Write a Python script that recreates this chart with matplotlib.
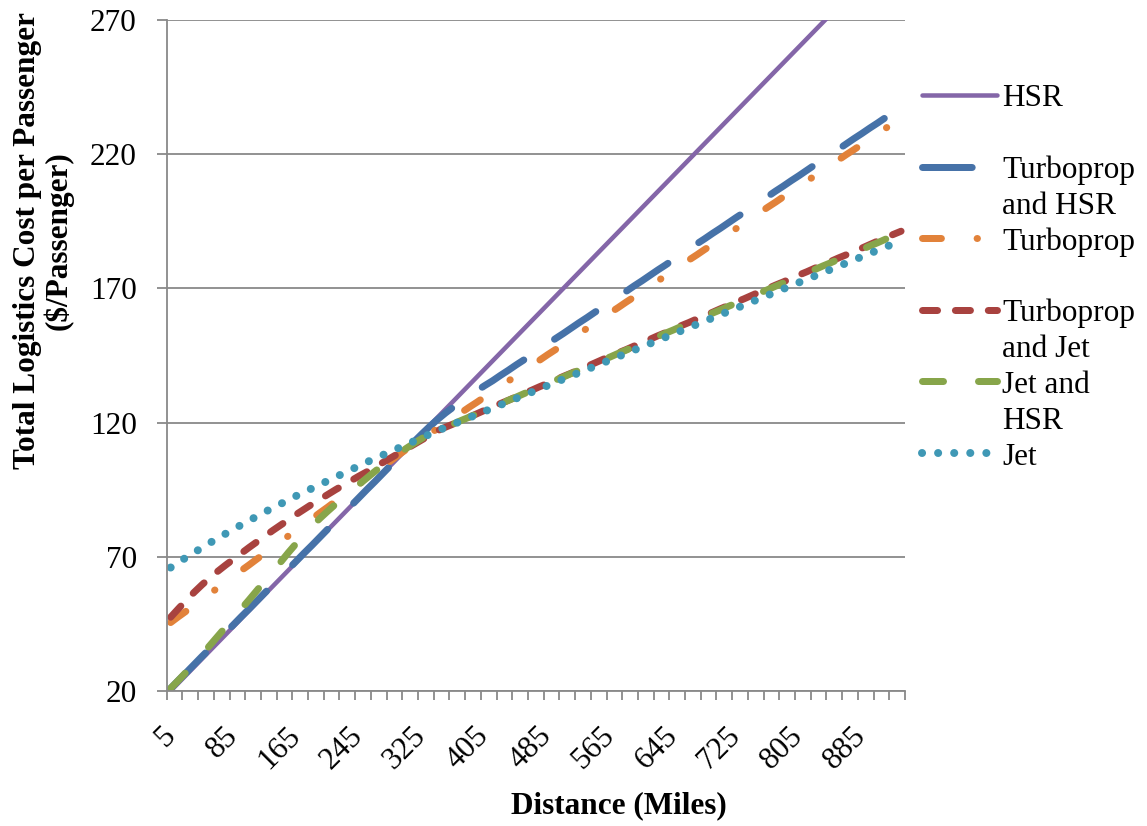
import matplotlib
matplotlib.use('Agg')
from matplotlib import pyplot as plt
from matplotlib import transforms
from matplotlib.lines import Line2D
import numpy as np

# categories (miles)
distances = list(range(5, 936, 10))

hsr = [20, 23, 26, 29, 32, 35, 38, 41, 44, 47, 50, 53, 56, 59, 62, 65, 68, 71, 74, 77,
       80, 83, 86, 89, 92, 95, 98, 101, 104, 107, 110, 113, 116, 119, 122, 125, 128, 131, 134, 137,
       140, 143, 146, 149, 152, 155, 158, 161, 164, 167, 170, 173, 176, 179, 182, 185, 188, 191, 194, 197,
       200, 203, 206, 209, 212, 215, 218, 221, 224, 227, 230, 233, 236, 239, 242, 245, 248, 251, 254, 257,
       260, 263, 266, 269, 272, 275, 278, 281, 284, 287, 290, 293, 296, 299]

turboprop_hsr = [21.0, 24.0, 26.9, 29.9, 32.9, 35.8, 38.8, 41.7, 44.7, 47.7, 50.6, 53.6, 56.6, 59.5, 62.5,
                 65.4, 68.4, 71.4, 74.3, 77.3, 80.3, 83.2, 86.2, 89.1, 92.1, 95.1, 98.0, 101.0, 104.0, 106.9,
                 109.9, 112.9, 115.8, 118.6, 121.2, 123.6, 125.8, 127.9, 129.9, 131.9, 133.8, 135.6, 137.6, 139.5,
                 141.5, 143.4, 145.4, 147.4, 149.3, 151.3, 153.2, 155.2, 157.2, 159.1, 161.1, 163.0, 165.0, 167.0,
                 168.9, 170.9, 172.8, 174.8, 176.8, 178.7, 180.7, 182.6, 184.6, 186.6, 188.5, 190.5, 192.4, 194.4,
                 196.4, 198.3, 200.3, 202.2, 204.2, 206.2, 208.1, 210.1, 212.0, 214.0, 216.0, 217.9, 219.9, 221.8,
                 223.8, 225.8, 227.7, 229.7, 231.6, 233.6, 235.6, 237.5]

turboprop = [45.5, 47.7, 49.8, 52.0, 54.1, 56.3, 58.4, 60.6, 62.7, 64.9, 67.0, 69.2, 71.3, 73.5, 75.6,
             77.8, 79.9, 82.1, 84.2, 86.4, 88.5, 90.7, 92.8, 95.0, 97.1, 99.3, 101.4, 103.6, 105.7, 107.9,
             110.0, 112.0, 113.9, 115.9, 117.8, 119.8, 121.8, 123.7, 125.7, 127.6, 129.6, 131.6, 133.5, 135.5,
             137.4, 139.4, 141.4, 143.3, 145.3, 147.2, 149.2, 151.2, 153.1, 155.1, 157.0, 159.0, 161.0, 162.9,
             164.9, 166.8, 168.8, 170.8, 172.7, 174.7, 176.6, 178.6, 180.6, 182.5, 184.5, 186.4, 188.4, 190.4,
             192.3, 194.3, 196.2, 198.2, 200.2, 202.1, 204.1, 206.0, 208.0, 210.0, 211.9, 213.9, 215.8, 217.8,
             219.8, 221.7, 223.7, 225.6, 227.6, 229.6, 231.5, 233.5]

turboprop_jet = [47.5, 50.7, 53.8, 56.8, 59.6, 62.2, 64.6, 66.9, 69.1, 71.3, 73.5, 75.6, 77.7, 79.8, 81.8,
                 83.8, 85.8, 87.7, 89.6, 91.4, 93.2, 95.0, 96.7, 98.4, 100.1, 101.7, 103.4, 105.1, 106.8, 108.5,
                 110.2, 111.9, 113.6, 115.3, 117.0, 118.3, 119.5, 120.8, 122.0, 123.3, 124.6, 125.8, 127.1, 128.3,
                 129.6, 130.9, 132.1, 133.4, 134.6, 135.9, 137.2, 138.4, 139.7, 140.9, 142.2, 143.5, 144.7, 146.0,
                 147.2, 148.5, 149.8, 151.0, 152.3, 153.5, 154.8, 156.1, 157.3, 158.6, 159.8, 161.1, 162.4, 163.6,
                 164.9, 166.1, 167.4, 168.7, 169.9, 171.2, 172.4, 173.7, 175.0, 176.2, 177.5, 178.7, 180.0, 181.3,
                 182.5, 183.8, 185.0, 186.3, 187.6, 188.8, 190.1, 191.3]

jet_hsr = [21.0, 24.0, 27.1, 30.3, 33.6, 37.0, 40.4, 43.8, 47.2, 50.6, 54.0, 57.5, 61.0, 64.5, 68.0,
           71.6, 75.0, 78.3, 81.4, 84.3, 87.0, 89.6, 92.1, 94.6, 97.0, 99.4, 101.8, 104.1, 106.3, 108.4,
           110.4, 112.3, 114.1, 115.7, 117.0, 118.3, 119.5, 120.8, 122.0, 123.3, 124.5, 125.8, 127.0, 128.3,
           129.5, 130.8, 132.0, 133.3, 134.5, 135.8, 137.0, 138.3, 139.5, 140.8, 142.0, 143.3, 144.5, 145.8,
           147.0, 148.3, 149.5, 150.8, 152.0, 153.3, 154.5, 155.8, 157.0, 158.3, 159.5, 160.8, 162.0, 163.3,
           164.5, 165.8, 167.0, 168.3, 169.5, 170.8, 172.0, 173.3, 174.5, 175.8, 177.0, 178.3, 179.5, 180.8,
           182.0, 183.3, 184.5, 185.8, 187.0, 188.3, 189.5, 190.8]

jet = [66.0, 67.9, 69.8, 71.6, 73.4, 75.2, 76.9, 78.6, 80.3, 81.9, 83.5, 85.1, 86.7, 88.2, 89.7,
       91.2, 92.7, 94.1, 95.5, 96.9, 98.3, 99.7, 101.1, 102.5, 103.9, 105.3, 106.6, 107.9, 109.2, 110.5,
       111.8, 113.1, 114.4, 115.7, 117.0, 118.2, 119.4, 120.6, 121.8, 123.0, 124.2, 125.4, 126.6, 127.8,
       129.0, 130.2, 131.4, 132.6, 133.8, 135.0, 136.2, 137.4, 138.6, 139.8, 141.0, 142.2, 143.4, 144.6,
       145.8, 147.0, 148.2, 149.4, 150.6, 151.8, 153.0, 154.2, 155.4, 156.6, 157.8, 159.0, 160.2, 161.4,
       162.6, 163.8, 165.0, 166.2, 167.4, 168.6, 169.8, 171.0, 172.2, 173.4, 174.6, 175.8, 177.0, 178.2,
       179.4, 180.6, 181.8, 183.0, 184.2, 185.4, 186.6, 187.8]

y_ticks = [20, 70, 120, 170, 220, 270]
x_label_step = 8

W, H, DPI = 1147, 826, 100
GRAY = '#898989'
FONT_SIZE = 22.5

# label, values, color, line width (px), dash pattern in line widths (None = solid)
series = [
    ('HSR', hsr, '#8466A8', 4.5, None),
    ('Turboprop\nand HSR', turboprop_hsr, '#4672A8', 7.0, (7.1, 5.3)),
    ('Turboprop', turboprop, '#E2823A', 7.0, (2.7, 5.1, 0.05, 5.1)),
    ('Turboprop\nand Jet', turboprop_jet, '#A8423F', 7.0, (2.15, 2.55)),
    ('Jet and\nHSR', jet_hsr, '#87A54A', 7.0, (3.0, 5.0)),
    ('Jet', jet, '#3F98B5', 8.0, (0.01, 2.0)),
]


def px_to_pt(v):
    return v * 72.0 / DPI


def line_kwargs(color, lw, dashes):
    kw = dict(color=color, lw=px_to_pt(lw), solid_capstyle='round', dash_capstyle='round')
    if dashes is not None:
        kw['dashes'] = dashes
    return kw


def draw_legend(fig):
    # Excel style legend: handle aligned to first text line
    y0, step = 95, 71.6
    for i, (label, _, color, lw, dashes) in enumerate(series):
        y = y0 + i * step
        fig.add_artist(Line2D([922 / W, 997 / W], [1 - y / H, 1 - y / H],
                              transform=fig.transFigure, **line_kwargs(color, lw, dashes)))
        for j, part in enumerate(label.split('\n')):
            base = y + 11.5 + j * 36
            fig.text(1002 / W, 1 - base / H, part, fontsize=FONT_SIZE, va='baseline', ha='left')


def main():
    plt.rcParams['font.family'] = ['Liberation Serif', 'DejaVu Serif']
    fig = plt.figure(figsize=(W / DPI, H / DPI), dpi=DPI)
    left, right, top, bottom = 166.7, 905, 20, 691
    ax = fig.add_axes([left / W, 1 - bottom / H, (right - left) / W, (bottom - top) / H])

    idx = np.arange(len(distances))
    for label, values, color, lw, dashes in series:
        ax.plot(idx, values, **line_kwargs(color, lw, dashes))

    ax.set_xlim(-0.5, len(distances) - 0.5)
    ax.set_ylim(y_ticks[0], y_ticks[-1])

    for s in ['top', 'right']:
        ax.spines[s].set_visible(False)
    for s in ['left', 'bottom']:
        ax.spines[s].set_color(GRAY)
        ax.spines[s].set_linewidth(1.3)

    ax.set_yticks(y_ticks)
    ax.yaxis.grid(True, color=GRAY, lw=1.3)
    ax.set_axisbelow(True)
    ax.tick_params(axis='y', length=px_to_pt(10), width=1.3, color=GRAY, pad=px_to_pt(20),
                   labelsize=FONT_SIZE)

    ax.set_xticks(idx[::x_label_step])
    ax.set_xticklabels([str(d) for d in distances[::x_label_step]])
    ax.set_xticks(np.arange(-0.5, len(distances), 2), minor=True)
    ax.tick_params(axis='x', which='major', length=0, pad=px_to_pt(30), labelsize=FONT_SIZE)
    ax.tick_params(axis='x', which='minor', length=px_to_pt(9), width=1.3, color=GRAY)
    offset = transforms.ScaledTranslation(10 / DPI, 0, fig.dpi_scale_trans)
    for lbl in ax.get_xticklabels():
        lbl.set_rotation(45)
        lbl.set_ha('right')
        lbl.set_va('top')
        lbl.set_transform(lbl.get_transform() + offset)

    fig.text(619 / W, 1 - 806 / H, 'Distance (Miles)', fontsize=FONT_SIZE, fontweight='bold',
             ha='center', va='center')
    fig.text(43 / W, 1 - 241 / H, 'Total Logistics Cost per Passenger\n($/Passenger)',
             fontsize=FONT_SIZE, fontweight='bold', rotation=90, ha='center', va='center',
             multialignment='center', linespacing=1.05)

    draw_legend(fig)
    fig.savefig('out.png', dpi=DPI)


if __name__ == '__main__':
    main()
